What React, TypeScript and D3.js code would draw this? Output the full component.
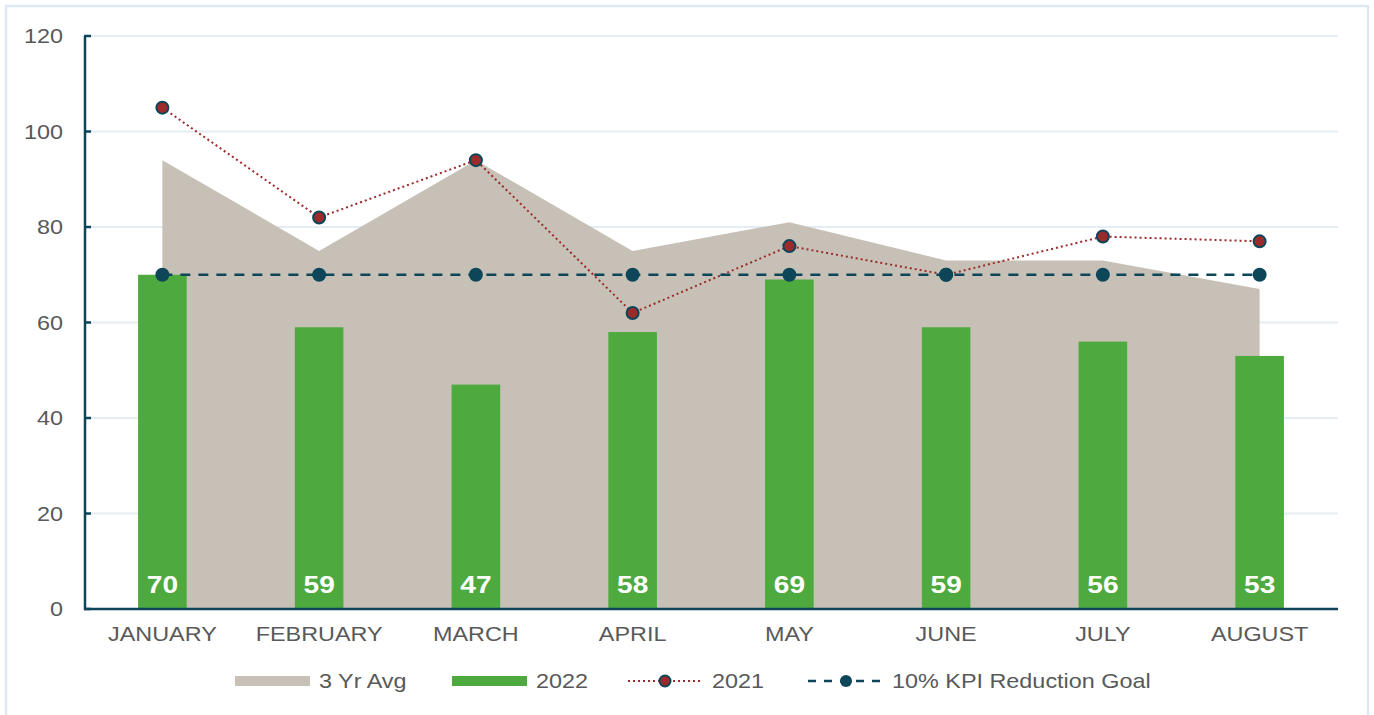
import { useRef, useEffect } from 'react';
import * as d3 from 'd3';

const months = ['JANUARY', 'FEBRUARY', 'MARCH', 'APRIL', 'MAY', 'JUNE', 'JULY', 'AUGUST'];
const avg3yr = [94, 75, 94, 75, 81, 73, 73, 67];
const values2022 = [70, 59, 47, 58, 69, 59, 56, 53];
const values2021 = [105, 82, 94, 62, 76, 70, 78, 77];
const kpiGoal = [70, 70, 70, 70, 70, 70, 70, 70];
const yTicks = [0, 20, 40, 60, 80, 100, 120];

const legendItems = [
  { key: 'avg', label: '3 Yr Avg' },
  { key: 'y2022', label: '2022' },
  { key: 'y2021', label: '2021' },
  { key: 'kpi', label: '10% KPI Reduction Goal' },
];

const AREA = '#c7c0b7';
const GREEN = '#4eaa3e';
const RED = '#9b2b2a';
const TEAL = '#0c4658';
const GRID = '#e4edf4';
const TEXT = '#595959';
const SX = 1.17; // text in the picture is a bit wide

export default function App() {
  const svgRef = useRef(null);

  useEffect(() => {
    const svg = d3.select(svgRef.current);
    svg.selectAll('*').remove();

    const width = 1374;
    const height = 715;
    const left = 84, right = 1338, top = 36, bottom = 609;

    const x = d3.scaleBand().domain(months).range([left, right]).padding(0);
    const y = d3.scaleLinear().domain([0, 120]).range([bottom, top]);
    const cx = (m) => x(m) + x.bandwidth() / 2;

    const font = 'Liberation Sans, Arial, sans-serif';

    // stretched text helper
    const addText = (g, tx, ty, str, opts) => {
      g.append('text')
        .attr('transform', `translate(${tx},${ty}) scale(${SX},1)`)
        .attr('text-anchor', opts.anchor || 'middle')
        .attr('font-family', font)
        .attr('font-size', opts.size)
        .attr('font-weight', opts.weight || 'normal')
        .attr('fill', opts.fill || TEXT)
        .text(str);
    };

    // outer frame
    svg.append('rect')
      .attr('x', 6).attr('y', 6)
      .attr('width', width - 12).attr('height', height + 10)
      .attr('fill', 'white')
      .attr('stroke', '#dfe9f1')
      .attr('stroke-width', 2.5);

    // gridlines
    svg.append('g')
      .selectAll('line')
      .data(yTicks.filter(t => t > 0))
      .enter()
      .append('line')
      .attr('x1', left + 2).attr('x2', right)
      .attr('y1', d => y(d)).attr('y2', d => y(d))
      .attr('stroke', GRID)
      .attr('stroke-width', 2);

    // 3 yr avg area
    const area = d3.area()
      .x((d, i) => cx(months[i]))
      .y0(y(0))
      .y1(d => y(d));
    svg.append('path')
      .attr('d', area(avg3yr))
      .attr('fill', AREA);

    // 2022 bars
    const barW = x.bandwidth() * 0.31;
    svg.append('g')
      .selectAll('rect')
      .data(values2022)
      .enter()
      .append('rect')
      .attr('x', (d, i) => cx(months[i]) - barW / 2)
      .attr('y', d => y(d))
      .attr('width', barW)
      .attr('height', d => y(0) - y(d))
      .attr('fill', GREEN);

    const labels = svg.append('g');
    values2022.forEach((d, i) => {
      addText(labels, cx(months[i]), 593, String(d), { size: 24, weight: 'bold', fill: 'white' });
    });

    // 2021 dotted line
    const line = d3.line().x((d, i) => cx(months[i])).y(d => y(d));
    svg.append('path')
      .attr('d', line(values2021))
      .attr('fill', 'none')
      .attr('stroke', RED)
      .attr('stroke-width', 2)
      .attr('stroke-dasharray', '2,3');
    svg.append('g')
      .selectAll('circle')
      .data(values2021)
      .enter()
      .append('circle')
      .attr('cx', (d, i) => cx(months[i]))
      .attr('cy', d => y(d))
      .attr('r', 6)
      .attr('fill', RED)
      .attr('stroke', TEAL)
      .attr('stroke-width', 2);

    // KPI goal dashed line
    svg.append('path')
      .attr('d', line(kpiGoal))
      .attr('fill', 'none')
      .attr('stroke', TEAL)
      .attr('stroke-width', 2.5)
      .attr('stroke-dasharray', '10,8');
    svg.append('g')
      .selectAll('circle')
      .data(kpiGoal)
      .enter()
      .append('circle')
      .attr('cx', (d, i) => cx(months[i]))
      .attr('cy', d => y(d))
      .attr('r', 7)
      .attr('fill', TEAL);

    // axes
    svg.append('line')
      .attr('x1', left + 1).attr('x2', left + 1)
      .attr('y1', top).attr('y2', bottom + 1)
      .attr('stroke', TEAL).attr('stroke-width', 2.5);
    svg.append('line')
      .attr('x1', left).attr('x2', right)
      .attr('y1', bottom).attr('y2', bottom)
      .attr('stroke', TEAL).attr('stroke-width', 2.5);
    svg.append('g')
      .selectAll('line')
      .data(yTicks)
      .enter()
      .append('line')
      .attr('x1', left).attr('x2', left + 7)
      .attr('y1', d => y(d)).attr('y2', d => y(d))
      .attr('stroke', TEAL).attr('stroke-width', 2.5);

    const yLabels = svg.append('g');
    yTicks.forEach(t => {
      addText(yLabels, 63, y(t) + 7, String(t), { size: 20, anchor: 'end' });
    });

    const xLabels = svg.append('g');
    months.forEach(m => {
      addText(xLabels, cx(m), 641, m, { size: 20 });
    });

    // legend
    const lg = svg.append('g');
    const ly = 681;
    const legendX = [235, 452, 628, 808];
    legendItems.forEach((item, i) => {
      const x0 = legendX[i];
      if (item.key === 'avg' || item.key === 'y2022') {
        lg.append('rect')
          .attr('x', x0).attr('y', ly - 5)
          .attr('width', 75).attr('height', 10)
          .attr('fill', item.key === 'avg' ? AREA : GREEN);
      } else if (item.key === 'y2021') {
        lg.append('line')
          .attr('x1', x0).attr('x2', x0 + 75)
          .attr('y1', ly).attr('y2', ly)
          .attr('stroke', RED).attr('stroke-width', 2)
          .attr('stroke-dasharray', '2,3');
        lg.append('circle')
          .attr('cx', x0 + 37).attr('cy', ly).attr('r', 5.5)
          .attr('fill', RED).attr('stroke', TEAL).attr('stroke-width', 2);
      } else {
        lg.append('line')
          .attr('x1', x0).attr('x2', x0 + 75)
          .attr('y1', ly).attr('y2', ly)
          .attr('stroke', TEAL).attr('stroke-width', 2.5)
          .attr('stroke-dasharray', '8,8');
        lg.append('circle')
          .attr('cx', x0 + 38).attr('cy', ly).attr('r', 6)
          .attr('fill', TEAL);
      }
      addText(lg, x0 + 84, ly + 7, item.label, { size: 20, anchor: 'start' });
    });
  }, []);

  return (
    <svg
      ref={svgRef}
      width={1374}
      height={715}
      style={{ position: 'absolute', left: 0, top: 0, display: 'block' }}
    />
  );
}
